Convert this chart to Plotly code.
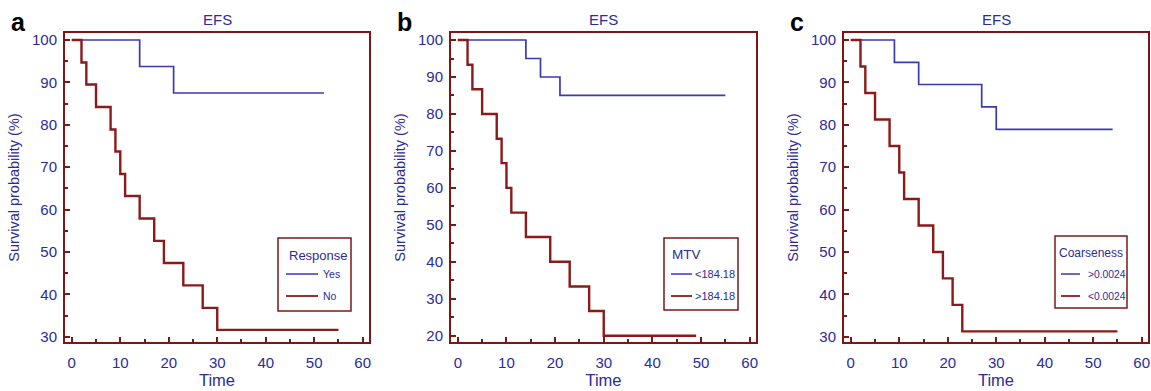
import plotly.graph_objects as go

# ---------------- data ----------------
# Panel a: Response
a_yes_time = [0, 14, 21, 52]
a_yes_surv = [100, 93.75, 87.5, 87.5]
a_no_time = [0, 2, 3, 5, 8, 9, 10, 11, 14, 17, 19, 23, 27, 30, 55]
a_no_surv = [100, 94.7, 89.5, 84.2, 78.9, 73.7, 68.4, 63.2, 57.9, 52.6, 47.4, 42.1, 36.8, 31.6, 31.6]

# Panel b: MTV
b_low_time = [0, 14, 17, 21, 55]
b_low_surv = [100, 95, 90, 85, 85]
b_high_time = [0, 2, 3, 5, 8, 9, 10, 11, 14, 19, 23, 27, 30, 49]
b_high_surv = [100, 93.3, 86.7, 80, 73.3, 66.7, 60, 53.3, 46.7, 40, 33.3, 26.7, 20, 20]

# Panel c: Coarseness
c_hi_time = [0, 9, 14, 27, 30, 54]
c_hi_surv = [100, 94.7, 89.5, 84.2, 78.9, 78.9]
c_lo_time = [0, 2, 3, 5, 8, 10, 11, 14, 17, 19, 21, 23, 55]
c_lo_surv = [100, 93.75, 87.5, 81.25, 75, 68.75, 62.5, 56.25, 50, 43.75, 37.5, 31.25, 31.25]

panel_letters = ["a", "b", "c"]
panel_titles = ["EFS", "EFS", "EFS"]
legend_titles = ["Response", "MTV", "Coarseness"]
legend_labels = [["Yes", "No"], ["<184.18", ">184.18"], [">0.0024", "<0.0024"]]
x_ticks = [0, 10, 20, 30, 40, 50, 60]

# ---------------- style ----------------
W, H = 1151, 391
BLUE_TXT = "#2b2b9c"
BLUE_LINE = "#3a3ab4"
RED = "#8b1a1a"
FRAME = "#7d1717"
FONT = "Liberation Sans, Arial, sans-serif"
NARROW = "Liberation Sans Narrow, Liberation Sans, Arial, sans-serif"

def px(x):
    return x / W

def py(y):
    return 1 - y / H

frames = [(65, 369), (451, 756), (844, 1148)]
top, bottom = 33, 342
y_ranges = [[28.75, 101.65], [18.3, 101.9], [28.75, 101.65]]
y_dticks = [10, 10, 10]
x_range = [-1.4, 61.3]

series = [
    ((a_yes_time, a_yes_surv), (a_no_time, a_no_surv)),
    ((b_low_time, b_low_surv), (b_high_time, b_high_surv)),
    ((c_hi_time, c_hi_surv), (c_lo_time, c_lo_surv)),
]

fig = go.Figure()
layout = dict(
    width=W, height=H,
    margin=dict(l=0, r=0, t=0, b=0, pad=0),
    paper_bgcolor="white", plot_bgcolor="white",
    showlegend=False,
    font=dict(family=FONT, color=BLUE_TXT),
)
shapes = []
annotations = []

for i in range(3):
    sfx = "" if i == 0 else str(i + 1)
    xa, ya = "x" + sfx, "y" + sfx
    (t1, s1), (t2, s2) = series[i]
    fig.add_trace(go.Scatter(x=t1, y=s1, mode="lines", line=dict(color=BLUE_LINE, width=1.7, shape="hv"),
                             xaxis=xa, yaxis=ya, name=legend_labels[i][0], cliponaxis=False))
    fig.add_trace(go.Scatter(x=t2, y=s2, mode="lines", line=dict(color=RED, width=2.4, shape="hv"),
                             xaxis=xa, yaxis=ya, name=legend_labels[i][1], cliponaxis=False))
    l, r = frames[i]
    axis_common = dict(
        showline=True, linecolor=FRAME, linewidth=2, mirror=True,
        showgrid=False, zeroline=False, automargin=False,
        ticks="inside", ticklen=5, tickwidth=2, tickcolor=FRAME,
        tickfont=dict(family=FONT, size=15, color=BLUE_TXT),
        minor=dict(ticks="inside", ticklen=3, tickwidth=1.5, tickcolor=FRAME, showgrid=False),
    )
    layout["xaxis" + sfx] = dict(
        axis_common, domain=[px(l), px(r)], range=x_range, anchor=ya,
        tickmode="array", tickvals=x_ticks, ticklabelstandoff=6,
        minor=dict(axis_common["minor"], dtick=5, tick0=5),
        title=dict(text="Time", font=dict(family=NARROW, size=16.5, color=BLUE_TXT), standoff=2),
    )
    layout["yaxis" + sfx] = dict(
        axis_common, domain=[py(bottom), py(top)], range=y_ranges[i], anchor=xa,
        dtick=y_dticks[i], tick0=0, ticklabelstandoff=3,
        minor=dict(axis_common["minor"], dtick=5, tick0=0),
        title=dict(text="Survival probability (%)", font=dict(family=FONT, size=14.5, color=BLUE_TXT), standoff=9),
    )
    # panel title
    annotations.append(dict(text=panel_titles[i], xref="paper", yref="paper",
                            x=px((l + r) / 2), y=py(20), xanchor="center", yanchor="middle",
                            showarrow=False, font=dict(family=FONT, size=15, color=BLUE_TXT)))
    # panel letter
    annotations.append(dict(text="<b>%s</b>" % panel_letters[i], xref="paper", yref="paper",
                            x=px(l - 56), y=py(22), xanchor="left", yanchor="middle",
                            showarrow=False, font=dict(family=FONT, size=25, color="black")))

# legends (drawn as boxes)
legend_boxes = [
    dict(box=(278, 238, 351, 311), title_y=255, title_x=287, line=(286, 318), text_x=321,
         rows=(274, 296), tfont=(NARROW, 13), ifont=(NARROW, 10.5)),
    dict(box=(664, 238, 738, 310), title_y=254, title_x=670, line=(671, 692), text_x=693,
         rows=(274, 296), tfont=(FONT, 13.5), ifont=(FONT, 11)),
    dict(box=(1055, 236, 1127, 308), title_y=253, title_x=1057, line=(1061, 1080), text_x=1086,
         rows=(274, 296), tfont=(FONT, 12), ifont=(FONT, 10.3)),
]
for i, lb in enumerate(legend_boxes):
    x0, y0, x1, y1 = lb["box"]
    shapes.append(dict(type="rect", xref="paper", yref="paper", x0=px(x0), x1=px(x1), y0=py(y1), y1=py(y0),
                       line=dict(color=FRAME, width=1.5), fillcolor="white", layer="above"))
    annotations.append(dict(text=legend_titles[i], xref="paper", yref="paper", x=px(lb["title_x"]), y=py(lb["title_y"]),
                            xanchor="left", yanchor="middle", showarrow=False,
                            font=dict(family=lb["tfont"][0], size=lb["tfont"][1], color=BLUE_TXT)))
    for j, (col, w) in enumerate([(BLUE_LINE, 1.5), (RED, 1.8)]):
        yy = lb["rows"][j]
        shapes.append(dict(type="line", xref="paper", yref="paper", x0=px(lb["line"][0]), x1=px(lb["line"][1]),
                           y0=py(yy), y1=py(yy), line=dict(color=col, width=w), layer="above"))
        annotations.append(dict(text=legend_labels[i][j], xref="paper", yref="paper", x=px(lb["text_x"]), y=py(yy),
                                xanchor="left", yanchor="middle", showarrow=False,
                                font=dict(family=lb["ifont"][0], size=lb["ifont"][1], color=BLUE_TXT)))

layout["shapes"] = shapes
layout["annotations"] = annotations
fig.update_layout(**layout)
fig.write_html("out.html", config={"displayModeBar": False},
               post_script="document.body.style.margin='0';document.body.style.overflow='hidden';")
